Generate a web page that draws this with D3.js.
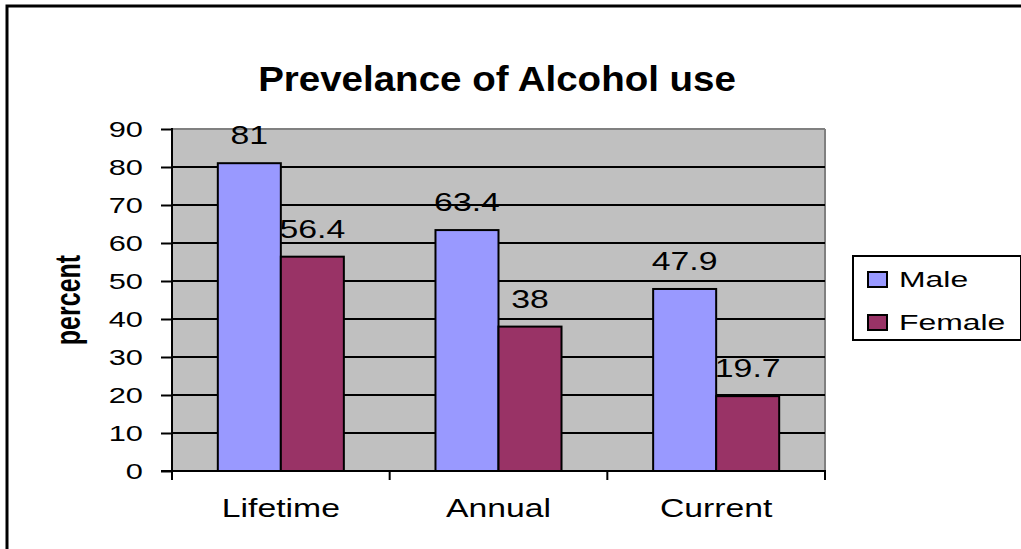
<!DOCTYPE html>
<html><head><meta charset="utf-8">
<script src="https://cdn.jsdelivr.net/npm/d3@7"></script>
<style>html,body{margin:0;padding:0;background:#fff;} svg{display:block;}</style>
</head><body>
<svg id="c" width="1021" height="549"></svg>
<script>
const categories = ["Lifetime", "Annual", "Current"];
const seriesNames = ["Male", "Female"];
const maleValues = [81, 63.4, 47.9];
const femaleValues = [56.4, 38, 19.7];
const yTicks = [0, 10, 20, 30, 40, 50, 60, 70, 80, 90];
const seriesColors = ["#9999FF", "#993366"];
const titleText = "Prevelance of Alcohol use";
const yLabel = "percent";

const values = [maleValues, femaleValues];
const svg = d3.select("#c");
const font = "'Liberation Sans', Arial, sans-serif";
const SX = 1.4;

// outer chart border
svg.append("rect").attr("x", 7).attr("y", 6).attr("width", 1040).attr("height", 570)
  .attr("fill", "#fff").attr("stroke", "#000").attr("stroke-width", 3);

const L = 172, R = 825, T = 129, B = 471;
const x = d3.scaleBand().domain(categories).range([L, R]).padding(0);
const xs = d3.scaleBand().domain(seriesNames).range([0, x.bandwidth()]).paddingInner(0).paddingOuter(0.727);
const y = d3.scaleLinear().domain([0, 90]).range([B, T]);

// plot area
svg.append("rect").attr("x", L).attr("y", T).attr("width", R - L).attr("height", B - T).attr("fill", "#C0C0C0");
svg.append("line").attr("x1", L).attr("x2", R).attr("y1", T).attr("y2", T).attr("stroke", "#808080").attr("stroke-width", 2);
svg.append("line").attr("x1", R).attr("x2", R).attr("y1", T).attr("y2", B).attr("stroke", "#808080").attr("stroke-width", 2);

// gridlines
svg.append("g").selectAll("line").data(yTicks.filter(d => d > 0 && d < 90)).join("line")
  .attr("x1", L).attr("x2", R).attr("y1", d => y(d)).attr("y2", d => y(d))
  .attr("stroke", "#000").attr("stroke-width", 2);

// y axis
const ya = svg.append("g").attr("transform", `translate(${L},0)`)
  .call(d3.axisLeft(y).tickValues(yTicks).tickSize(11).tickFormat(""));
ya.select(".domain").remove();
ya.selectAll(".tick line").attr("stroke", "#000").attr("stroke-width", 2);
svg.append("line").attr("x1", L).attr("x2", L).attr("y1", T - 1).attr("y2", B + 1).attr("stroke", "#000").attr("stroke-width", 2);
svg.append("g").selectAll("text").data(yTicks).join("text")
  .attr("transform", d => `translate(143,${y(d) + 8}) scale(${SX},1)`)
  .attr("text-anchor", "end").attr("font-family", font).attr("font-size", 22).attr("fill", "#000")
  .text(d => d);

// x axis
const xBounds = categories.map(c => x(c)).concat([R]);
svg.append("g").selectAll("line").data(xBounds).join("line")
  .attr("x1", d => d).attr("x2", d => d).attr("y1", B).attr("y2", B + 9)
  .attr("stroke", "#000").attr("stroke-width", 2);
svg.append("g").selectAll("text").data(categories).join("text")
  .attr("transform", d => `translate(${x(d) + x.bandwidth() / 2},517) scale(1.35,1)`)
  .attr("text-anchor", "middle").attr("font-family", font).attr("font-size", 25).attr("fill", "#000")
  .text(d => d);

// bars
const g = svg.append("g");
categories.forEach((c, i) => {
  seriesNames.forEach((s, j) => {
    const v = values[j][i];
    g.append("rect").attr("x", x(c) + xs(s)).attr("y", y(v))
      .attr("width", xs.bandwidth()).attr("height", B - y(v))
      .attr("fill", seriesColors[j]).attr("stroke", "#000").attr("stroke-width", 2);
  });
});
svg.append("line").attr("x1", L - 11).attr("x2", R + 1).attr("y1", B).attr("y2", B).attr("stroke", "#000").attr("stroke-width", 2);

// data labels
categories.forEach((c, i) => {
  seriesNames.forEach((s, j) => {
    const v = values[j][i];
    svg.append("text")
      .attr("transform", `translate(${x(c) + xs(s) + xs.bandwidth() / 2},${y(v) - 19}) scale(1.3,1)`)
      .attr("text-anchor", "middle").attr("font-family", font).attr("font-size", 26).attr("fill", "#000")
      .text(v);
  });
});

// title
svg.append("text").attr("transform", `translate(497,91) scale(1.1,1)`)
  .attr("text-anchor", "middle").attr("font-family", font).attr("font-weight", "bold")
  .attr("font-size", 35).attr("fill", "#000").text(titleText);

// y label
svg.append("text").attr("transform", `translate(80,300) scale(1.4,1) rotate(-90)`)
  .attr("text-anchor", "middle").attr("font-family", font).attr("font-weight", "bold")
  .attr("font-size", 25).attr("fill", "#000").text(yLabel);

// legend
const lg = svg.append("g");
lg.append("rect").attr("x", 853).attr("y", 256).attr("width", 168).attr("height", 84)
  .attr("fill", "#fff").attr("stroke", "#000").attr("stroke-width", 2);
seriesNames.forEach((s, j) => {
  const yy = 272 + j * 43;
  lg.append("rect").attr("x", 868).attr("y", yy).attr("width", 19).attr("height", 15)
    .attr("fill", seriesColors[j]).attr("stroke", "#000").attr("stroke-width", 2);
  lg.append("text").attr("transform", `translate(899,${yy + 15}) scale(1.45,1)`)
    .attr("font-family", font).attr("font-size", 22).attr("fill", "#000").text(s);
});
</script>
</body></html>
